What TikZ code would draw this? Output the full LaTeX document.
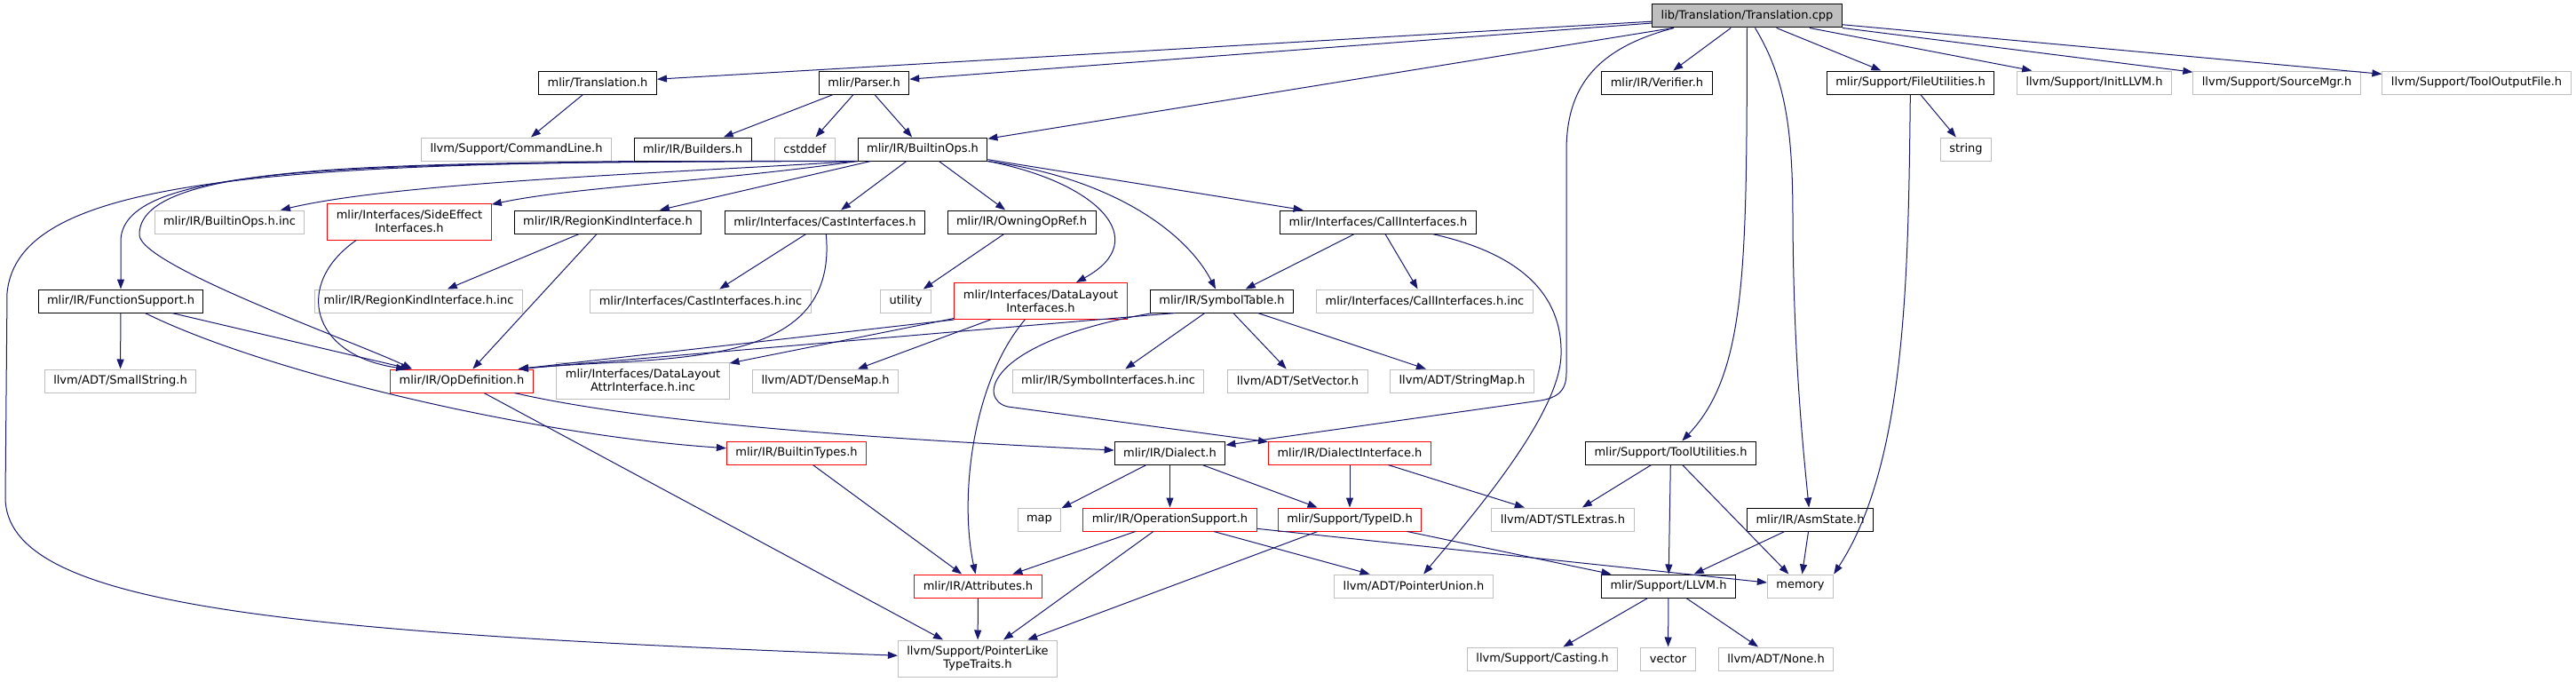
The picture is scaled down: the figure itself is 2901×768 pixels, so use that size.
\documentclass[tikz,border=0pt]{standalone}
\usepackage{fontspec}
\setmainfont{DejaVu Sans}
\usetikzlibrary{arrows.meta}
\definecolor{edgeblue}{RGB}{25,25,112}
\definecolor{extgray}{RGB}{191,191,191}
\definecolor{truncred}{RGB}{255,0,0}
\tikzset{
  hdrbox/.style={draw=black, line width=1pt, fill=white, inner xsep=10pt, inner ysep=0pt,
    minimum height=26pt, align=center, font=\fontsize{13pt}{15pt}\selectfont},
  extbox/.style={hdrbox, draw=extgray},
  redbox/.style={hdrbox, draw=truncred},
  rootbox/.style={hdrbox, fill=extgray},
  tallbox/.style={minimum height=41pt},
  incl/.style={-{Triangle[length=11pt,width=8pt]}, line width=1pt, edgeblue},
}

\begin{document}
\begin{tikzpicture}[x=1pt,y=-1pt]
  \fill[white] (0,0) rectangle (2901,768);
  \useasboundingbox (0,0) rectangle (2901,768);
  % files, row by row
  \node[rootbox] (root) at (1967.5,18) {lib/Translation/Translation.cpp};
  \node[hdrbox] (trans) at (673,93) {mlir/Translation.h};
  \node[hdrbox] (parser) at (973,93) {mlir/Parser.h};
  \node[hdrbox] (verifier) at (1866,93) {mlir/IR/Verifier.h};
  \node[hdrbox] (fileutil) at (2151.5,93) {mlir/Support/FileUtilities.h};
  \node[extbox] (initllvm) at (2358.5,93) {llvm/Support/InitLLVM.h};
  \node[extbox] (srcmgr) at (2564,93) {llvm/Support/SourceMgr.h};
  \node[extbox] (tooloutput) at (2789,93) {llvm/Support/ToolOutputFile.h};
  \node[extbox] (cmdline) at (581.5,168) {llvm/Support/CommandLine.h};
  \node[hdrbox] (builders) at (780,168) {mlir/IR/Builders.h};
  \node[extbox] (stdcstddef) at (906.5,168) {cstddef};
  \node[hdrbox] (builtinops) at (1039,168) {mlir/IR/BuiltinOps.h};
  \node[extbox] (stdstring) at (2214,168) {string};
  \node[extbox] (builtinopsinc) at (258.5,250) {mlir/IR/BuiltinOps.h.inc};
  \node[redbox, tallbox] (sideeffect) at (461,249.5) {mlir/Interfaces/SideEffect\\Interfaces.h};
  \node[hdrbox] (regionkind) at (684.5,250) {mlir/IR/RegionKindInterface.h};
  \node[hdrbox] (castif) at (929,250) {mlir/Interfaces/CastInterfaces.h};
  \node[hdrbox] (owning) at (1150.5,250) {mlir/IR/OwningOpRef.h};
  \node[hdrbox] (callif) at (1552,250) {mlir/Interfaces/CallInterfaces.h};
  \node[hdrbox] (funcsupport) at (136,339) {mlir/IR/FunctionSupport.h};
  \node[extbox] (regionkindinc) at (471.5,339) {mlir/IR/RegionKindInterface.h.inc};
  \node[extbox] (castifinc) at (789,339) {mlir/Interfaces/CastInterfaces.h.inc};
  \node[extbox] (stdutility) at (1020,339) {utility};
  \node[redbox, tallbox] (datalayout) at (1172,339) {mlir/Interfaces/DataLayout\\Interfaces.h};
  \node[hdrbox] (symtable) at (1376,339) {mlir/IR/SymbolTable.h};
  \node[extbox] (callifinc) at (1604.5,339) {mlir/Interfaces/CallInterfaces.h.inc};
  \node[extbox] (smallstring) at (135.5,429) {llvm/ADT/SmallString.h};
  \node[redbox] (opdef) at (520,429) {mlir/IR/OpDefinition.h};
  \node[extbox, tallbox] (dlattrinc) at (724,428.5) {mlir/Interfaces/DataLayout\\AttrInterface.h.inc};
  \node[extbox] (densemap) at (929.5,429) {llvm/ADT/DenseMap.h};
  \node[extbox] (symifinc) at (1248,429) {mlir/IR/SymbolInterfaces.h.inc};
  \node[extbox] (setvector) at (1461.5,429) {llvm/ADT/SetVector.h};
  \node[extbox] (stringmap) at (1646.5,429) {llvm/ADT/StringMap.h};
  \node[redbox] (builtintypes) at (897,510) {mlir/IR/BuiltinTypes.h};
  \node[hdrbox] (dialect) at (1317.5,510) {mlir/IR/Dialect.h};
  \node[redbox] (dialectif) at (1520,510) {mlir/IR/DialectInterface.h};
  \node[hdrbox] (toolutil) at (1881.5,510) {mlir/Support/ToolUtilities.h};
  \node[extbox] (stdmap) at (1170.5,585) {map};
  \node[redbox] (opsupport) at (1317.5,585) {mlir/IR/OperationSupport.h};
  \node[redbox] (typeid) at (1520,585) {mlir/Support/TypeID.h};
  \node[extbox] (stlextras) at (1760,585) {llvm/ADT/STLExtras.h};
  \node[hdrbox] (asmstate) at (2038.5,585) {mlir/IR/AsmState.h};
  \node[redbox] (attributes) at (1101.5,660) {mlir/IR/Attributes.h};
  \node[extbox] (ptrunion) at (1592,660) {llvm/ADT/PointerUnion.h};
  \node[hdrbox] (llvmh) at (1879,660) {mlir/Support/LLVM.h};
  \node[extbox] (stdmemory) at (2027.5,660) {memory};
  \node[extbox, tallbox] (ptrlike) at (1101,741.5) {llvm/Support/PointerLike\\TypeTraits.h};
  \node[extbox] (casting) at (1737,742) {llvm/Support/Casting.h};
  \node[extbox] (stdvector) at (1878.5,742) {vector};
  \node[extbox] (adtnone) at (2000,742) {llvm/ADT/None.h};
  \coordinate (opdefR) at ([xshift=-17pt]opdef.north east);

  % includes of the source file
  \draw[incl] (root) -- (trans);
  \draw[incl] (root) -- (parser);
  \draw[incl] (root) -- (builtinops);
  \draw[incl] ([xshift=25pt]root.south west) .. controls (1795,55) and (1764,100) .. (1764,170)
    -- (1764,420) .. controls (1764,442) and (1752,448) .. (1735,451) -- (dialect);
  \draw[incl] (root) -- (verifier);
  \draw[incl] (root) .. controls (1967,300) and (1967,420) .. (toolutil);
  \draw[incl] ([xshift=9pt]root.south) .. controls (2012,90) and (2019,150) .. (2019,250)
    .. controls (2020,400) and (2030,500) .. (asmstate);
  \draw[incl] (root) -- (fileutil);
  \draw[incl] (root) -- (initllvm);
  \draw[incl] (root) -- (srcmgr);
  \draw[incl] (root) -- (tooloutput);

  % second level
  \draw[incl] (trans) -- (cmdline);
  \draw[incl] (parser) -- (builders);
  \draw[incl] (parser) -- (stdcstddef);
  \draw[incl] (parser) -- (builtinops);
  \draw[incl] (fileutil) -- (stdstring);
  \draw[incl] (fileutil) .. controls (2149,300) and (2148,520) .. (stdmemory.north east);
  \draw[incl] (builders.south west) .. controls (400,186) and (155,188) .. (157,265)
    .. controls (160,300) and (400,385) .. ([xshift=25pt]opdef.north west);

  % BuiltinOps.h fan
  \draw[incl] (builtinops.south west) .. controls (750,195) and (450,205) .. (builtinopsinc);
  \draw[incl] (builtinops.south west) .. controls (800,205) and (650,210) .. (sideeffect);
  \draw[incl] (builtinops.south west) .. controls (400,183) and (140,185) .. (136,270) -- (funcsupport);
  \draw[incl] (builtinops.south west) .. controls (300,180) and (20,200) .. (8,330) -- (6,560)
    .. controls (6,680) and (300,712) .. (ptrlike);
  \draw[incl] (builtinops) -- (regionkind);
  \draw[incl] (builtinops) -- (castif);
  \draw[incl] (builtinops) -- (owning);
  \draw[incl] (builtinops.south east) .. controls (1235,205) and (1300,270) .. ([xshift=40pt]datalayout.north);
  \draw[incl] (builtinops.south east) .. controls (1250,200) and (1335,260) .. (symtable);
  \draw[incl] (builtinops) -- (callif);

  % third level
  \draw[incl] ([xshift=33pt]sideeffect.south west) .. controls (330,320) and (350,400) .. ([xshift=18pt]opdef.north west);
  \draw[incl] (regionkind) -- (regionkindinc);
  \draw[incl] (regionkind) -- (opdef);
  \draw[incl] (castif) -- (castifinc);
  \draw[incl] (castif) .. controls (945,420) and (750,400) .. (opdefR);
  \draw[incl] (owning) -- (stdutility);
  \draw[incl] (callif) -- (symtable);
  \draw[incl] (callif) -- (callifinc);
  \draw[incl] (callif) .. controls (1710,285) and (1760,330) .. (1758,400)
    .. controls (1756,470) and (1650,590) .. (ptrunion);

  % fourth level
  \draw[incl] (funcsupport) -- (smallstring);
  \draw[incl] (funcsupport) -- (opdef);
  \draw[incl] (funcsupport) .. controls (300,420) and (600,490) .. (builtintypes);
  \draw[incl] (datalayout.south west) -- (opdefR);
  \draw[incl] (datalayout) -- (dlattrinc);
  \draw[incl] (datalayout) -- (densemap);
  \draw[incl] (datalayout) .. controls (1095,430) and (1080,560) .. (attributes);
  \draw[incl] ([xshift=29pt]symtable.south west) -- (opdefR);
  \draw[incl] (symtable) -- (symifinc);
  \draw[incl] (symtable) -- (setvector);
  \draw[incl] (symtable) -- (stringmap);
  \draw[incl] (symtable) .. controls (1110,385) and (1100,450) .. (1135,458) -- (dialectif);

  % lower levels
  \draw[incl] (opdef) .. controls (700,470) and (900,490) .. (dialect);
  \draw[incl] (opdef) -- (ptrlike);
  \draw[incl] (builtintypes) -- (attributes);
  \draw[incl] (dialect) -- (stdmap);
  \draw[incl] (dialect) -- (opsupport);
  \draw[incl] (dialect) -- (typeid);
  \draw[incl] (dialectif) -- (typeid);
  \draw[incl] (dialectif) -- (stlextras);
  \draw[incl] (toolutil) -- (stlextras);
  \draw[incl] (toolutil) -- (llvmh);
  \draw[incl] (toolutil) -- (stdmemory);
  \draw[incl] (asmstate) -- (llvmh);
  \draw[incl] (asmstate) -- (stdmemory);
  \draw[incl] (opsupport) -- (attributes);
  \draw[incl] (opsupport) -- (ptrlike);
  \draw[incl] (opsupport) -- (ptrunion);
  \draw[incl] (opsupport) -- (stdmemory);
  \draw[incl] (typeid) -- (ptrlike);
  \draw[incl] (typeid) -- (llvmh);
  \draw[incl] (attributes) -- (ptrlike);
  \draw[incl] (llvmh) -- (casting);
  \draw[incl] (llvmh) -- (stdvector);
  \draw[incl] (llvmh) -- (adtnone);
\end{tikzpicture}
\end{document}
